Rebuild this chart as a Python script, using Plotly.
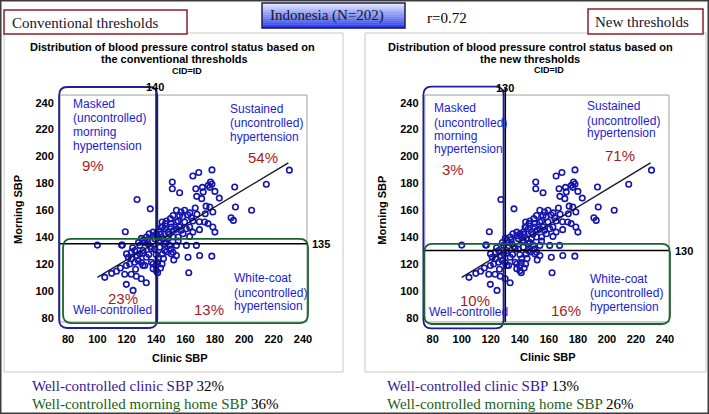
import plotly.graph_objects as go

W, H = 709, 414

# ---------------- data ----------------
clinic_sbp = [100, 119, 127, 136, 117, 151, 156, 151, 165, 169, 178, 167, 171.5, 175.5, 177, 178, 176.5, 180, 183, 172,
              171, 193.5, 194, 205, 215, 230.7, 191, 192.6, 167.6, 166.6, 174, 176.5, 178.6, 173.4, 167.8, 169.4, 173, 175.3, 178.6, 180,
              169.5, 164, 161.7, 157, 156, 159.4, 153.8, 151.5, 149.7, 146.3, 144.3, 142.4, 140.2, 145.8, 148, 150.3, 153.8, 156, 159.4, 160.6,
              162.8, 158.3, 155, 162.8, 165, 151.5, 148, 144.7, 142.4, 145.8, 149.3, 153.8, 160.6, 167.4, 142.4, 145.8, 150.3, 153.8, 161.7, 169.6,
              177.9, 144.3, 141.3, 144, 140.1, 140.1, 137.9, 162.2, 136.8, 134.5, 131.1, 128.9, 131.1, 133.4, 136.8, 132.3, 128.9, 125.4, 123.2, 119.8,
              123.2, 125.4, 122, 127.8, 133.4, 135.2, 137.9, 139, 144, 143.6, 105, 109.7, 113, 115.6, 119.7, 121, 118.6, 123, 126.5, 129.9,
              133.3, 119.7, 124.3, 131, 137.9,
              128, 132, 136, 139, 135, 131, 127, 124, 130, 134,
              138, 141, 143, 147, 149, 152, 154, 150, 147, 155, 158, 163, 165,
              157, 155, 150, 147, 140, 141, 145, 152, 143, 130, 126,
              116.5, 151.5, 141]
morning_sbp = [134, 144, 168, 161, 134, 181, 173, 176, 185.5, 188, 190, 176, 177, 178.6, 181, 179.5, 177, 174, 169, 173.6,
               168.6, 177.3, 162.4, 160, 179.3, 189.8, 154.4, 152.4, 170.3, 161.6, 163, 162.4, 158.7, 157.4, 157, 151.4, 151.2, 150, 147.5, 143.7,
               145.5, 154.4, 156.4, 158.7, 156, 160, 160, 156, 153.7, 150, 147.5, 143.7, 142.5, 146.2, 143.7, 147.5, 151.2, 147.5, 151.2, 146.2,
               147.5, 142.5, 140, 140.5, 143.7, 140, 138.8, 138.8, 137.5, 135, 133.8, 133.8, 133.8, 133.8, 132.5, 130, 127.5, 126.3, 125, 126.3,
               125.8, 127.5, 123.8, 120, 118.8, 115, 116.4, 113.4, 131.3, 135, 137.5, 133.8, 130, 125, 121.3, 118.8, 127.5, 130, 128.8, 127.5,
               123.8, 121.3, 120, 122.5, 140, 142.5, 143.7, 138.8, 151.2, 147.5, 110, 113, 114.5, 117, 118.8, 125, 112.3, 112.3, 110.8, 109,
               106, 104.8, 100.3, 118.8, 120,
               136, 136, 133, 131, 127, 128, 126, 132, 139, 138,
               141, 140, 142, 136, 142, 145, 146, 150, 152, 152, 155, 158, 152,
               145, 137, 131, 129, 127, 121, 124, 123, 117, 121, 116,
               134, 128.7, 113.5]
reg_x = [100, 230]
reg_y = [110, 195.2]

x_ticks = [80, 100, 120, 140, 160, 180, 200, 220, 240]
y_ticks = [80, 100, 120, 140, 160, 180, 200, 220, 240]

panels = [
    dict(name="Conventional thresholds", cx=140, my=135,
         pct=dict(masked="9%", sustained="54%", well="23%", white="13%"),
         clinic_ok="32%", home_ok="36%"),
    dict(name="New thresholds", cx=130, my=130,
         pct=dict(masked="3%", sustained="71%", well="10%", white="16%"),
         clinic_ok="13%", home_ok="26%"),
]

# ---------------- layout helpers ----------------
def px(x):
    return x / W

def py(y):
    return 1 - y / H

XR = [71, 247]
YR = [70, 254]
xdoms = [[54.8 / W, 313.3 / W], [419.6 / W, 675.2 / W]]
ydom = [1 - 331.1 / H, 1 - 83.9 / H]

BLUE_TXT = "rgb(28,28,210)"
RED_TXT = "rgb(165,30,30)"
BOX_BLUE = "rgb(30,30,150)"
BOX_GREEN = "rgb(25,100,45)"

fig = go.Figure()
shapes = []
annots = []

def rrect(x0, y0, x1, y1, rx, ry):
    return (f"M {x0+rx},{y0} L {x1-rx},{y0} Q {x1},{y0} {x1},{y0+ry} "
            f"L {x1},{y1-ry} Q {x1},{y1} {x1-rx},{y1} L {x0+rx},{y1} "
            f"Q {x0},{y1} {x0},{y1-ry} L {x0},{y0+ry} Q {x0},{y0} {x0+rx},{y0} Z")

# page frame and panels
shapes.append(dict(type="rect", xref="paper", yref="paper", x0=px(4), x1=px(343), y0=py(372), y1=py(33),
                   line=dict(color="rgb(200,200,200)", width=1), fillcolor="white", layer="below"))
shapes.append(dict(type="rect", xref="paper", yref="paper", x0=px(365), x1=px(706), y0=py(372), y1=py(33),
                   line=dict(color="rgb(200,200,200)", width=1), fillcolor="white", layer="below"))

# header boxes
shapes.append(dict(type="rect", xref="paper", yref="paper", x0=px(4), x1=px(187), y0=py(34), y1=py(10),
                   line=dict(color="rgb(140,30,40)", width=1.5), fillcolor="white"))
shapes.append(dict(type="rect", xref="paper", yref="paper", x0=px(588), x1=px(703), y0=py(34), y1=py(9),
                   line=dict(color="rgb(140,30,40)", width=1.5), fillcolor="white"))
# gradient box for country label
n_strip = 13
top_c = (225, 232, 255)
bot_c = (40, 60, 235)
for i in range(n_strip):
    t = i / (n_strip - 1)
    c = tuple(int(top_c[k] + (bot_c[k] - top_c[k]) * t) for k in range(3))
    y0s = 3 + 25 * i / n_strip
    y1s = 3 + 25 * (i + 1) / n_strip
    shapes.append(dict(type="rect", xref="paper", yref="paper", x0=px(262), x1=px(405), y0=py(y1s + 0.3), y1=py(y0s),
                       line=dict(width=0), fillcolor=f"rgb{c}"))
shapes.append(dict(type="rect", xref="paper", yref="paper", x0=px(262), x1=px(405), y0=py(28), y1=py(3),
                   line=dict(color="rgb(30,30,80)", width=1.5), fillcolor="rgba(0,0,0,0)"))
shapes.append(dict(type="rect", xref="paper", yref="paper", x0=0, x1=1, y0=0, y1=1,
                   line=dict(color="rgb(60,60,60)", width=3), fillcolor="rgba(0,0,0,0)"))

serif = "Liberation Serif, Times New Roman, serif"
sans = "Liberation Sans, Arial, sans-serif"

def txt(x, y, s, size, color="black", family=sans, xanchor="center", yanchor="middle", bold=False, angle=0):
    annots.append(dict(x=px(x), y=py(y), xref="paper", yref="paper", text=s, showarrow=False,
                       xanchor=xanchor, yanchor=yanchor, textangle=angle,
                       font=dict(size=size, color=color, family=family, weight="bold" if bold else "normal")))

txt(10, 23, "Conventional thresholds", 15, "rgb(20,20,50)", serif, xanchor="left")
txt(268, 15.5, "Indonesia (N=202)", 15, "rgb(20,20,50)", serif, xanchor="left")
txt(425, 18, "r=0.72", 15, "black", serif, xanchor="left")
txt(593, 22, "New thresholds", 15, "rgb(20,20,50)", serif, xanchor="left")

# per-panel geometry (pixel positions of labels)
geo = [
    dict(t1=(172.7, 47), t2=(174, 59.3), t3=(187.5, 70.7), sub="the conventional thresholds",
         masked=(70.7, [104.3, 118.5, 132.3, 145.5]), sustained=(228, [109.3, 123.3, 136.7]),
         white=(231.7, [277.7, 292.5, 306]), well=(71, 310),
         p_masked=(92.7, 165.7), p_sus=(263, 157), p_well=(122.7, 298), p_white=(209, 309),
         lab_top=(155.3, 87.3), lab_right=(321, 244.3), ytitle=(18, 210), xtitle=(180, 357.7),
         bottom_x=30,
         blue=(73.9, 72.3, 140.8, 251.7), green=(76.6, 76.0, 243.4, 138.6)),
    dict(t1=(530, 47), t2=(530, 58.6), t3=(549, 70.3), sub="the new thresholds",
         masked=(431.7, [108.3, 122.7, 136, 149.3]), sustained=(585, [106, 120.7, 133.3]),
         white=(587.7, [279.3, 293.3, 306.7]), well=(426.7, 311.7),
         p_masked=(452.7, 169.3), p_sus=(620, 155), p_well=(475, 300.7), p_white=(566, 310),
         lab_top=(505, 88.3), lab_right=(684, 250.7), ytitle=(381.7, 210), xtitle=(548, 357.3),
         bottom_x=385,
         blue=(73.6, 72.0, 128.8, 252.0), green=(74.2, 75.3, 243.4, 134.9)),
]

for i, (p, g) in enumerate(zip(panels, geo)):
    xa = "x" if i == 0 else "x2"
    ya = "y" if i == 0 else "y2"
    fig.add_trace(go.Scatter(x=clinic_sbp, y=morning_sbp, mode="markers", xaxis=xa, yaxis=ya,
                             marker=dict(symbol="circle-open", size=5.5, color="rgb(20,20,175)",
                                         line=dict(width=1.6, color="rgb(20,20,175)")),
                             showlegend=False, cliponaxis=False, hoverinfo="skip"))
    fig.add_trace(go.Scatter(x=reg_x, y=reg_y, mode="lines", xaxis=xa, yaxis=ya,
                             line=dict(color="rgb(20,20,40)", width=1.3), showlegend=False, hoverinfo="skip"))
    # plot frame
    shapes.append(dict(type="rect", xref=xa, yref=ya, x0=74.6, x1=242.7, y0=76.8, y1=245.7,
                       line=dict(color="rgb(160,160,160)", width=1), layer="below"))
    # threshold lines
    shapes.append(dict(type="line", xref=xa, yref=ya, x0=74.6, x1=242.7, y0=p["my"], y1=p["my"],
                       line=dict(color="black", width=1.6)))
    shapes.append(dict(type="line", xref=xa, yref=ya, x0=p["cx"], x1=p["cx"], y0=76.8, y1=251.5,
                       line=dict(color="black", width=1.6)))
    # rounded quadrant boxes
    bx0, by0, bx1, by1 = g["blue"]
    shapes.append(dict(type="path", xref=xa, yref=ya, path=rrect(bx0, by0, bx1, by1, 5.5, 6.5),
                       line=dict(color=BOX_BLUE, width=1.8)))
    gx0, gy0, gx1, gy1 = g["green"]
    shapes.append(dict(type="path", xref=xa, yref=ya, path=rrect(gx0, gy0, gx1, gy1, 5.5, 6.5),
                       line=dict(color=BOX_GREEN, width=1.8)))

    # titles
    txt(*g["t1"], "Distribution of blood pressure control status based on", 11, "black", sans, bold=True)
    txt(*g["t2"], g["sub"], 11, "black", sans, bold=True)
    txt(*g["t3"], "CID=ID", 9, "black", sans, bold=True)
    # quadrant text
    mx, mys = g["masked"]
    for s, yy in zip(["Masked", "(uncontrolled)", "morning", "hypertension"], mys):
        txt(mx, yy, s, 12, BLUE_TXT, sans, xanchor="left")
    sx, sys_ = g["sustained"]
    for s, yy in zip(["Sustained", "(uncontrolled)", "hypertension"], sys_):
        txt(sx, yy, s, 12, BLUE_TXT, sans, xanchor="left")
    wx, wys = g["white"]
    for s, yy in zip(["White-coat", "(uncontrolled)", "hypertension"], wys):
        txt(wx, yy, s, 12, BLUE_TXT, sans, xanchor="left")
    txt(*g["well"], "Well-controlled", 12, BLUE_TXT, sans, xanchor="left")
    txt(*g["p_masked"], p["pct"]["masked"], 15, RED_TXT, sans)
    txt(*g["p_sus"], p["pct"]["sustained"], 15, RED_TXT, sans)
    txt(*g["p_well"], p["pct"]["well"], 15, RED_TXT, sans)
    txt(*g["p_white"], p["pct"]["white"], 15, RED_TXT, sans)
    # threshold labels
    txt(*g["lab_top"], str(p["cx"]), 11, "black", sans, bold=True)
    txt(*g["lab_right"], str(p["my"]), 11, "black", sans, bold=True)
    # axis titles
    txt(*g["ytitle"], "Morning SBP", 11, "black", sans, bold=True, angle=-90)
    txt(*g["xtitle"], "Clinic SBP", 11, "black", sans, bold=True)
    # bottom summary
    txt(g["bottom_x"], 386, f"<span style='color:rgb(55,25,150)'>Well-controlled clinic SBP</span> {p['clinic_ok']}",
        15, "black", serif, xanchor="left")
    txt(g["bottom_x"], 404, f"<span style='color:rgb(25,95,25)'>Well-controlled morning home SBP</span> {p['home_ok']}",
        15, "black", serif, xanchor="left")

axis_common = dict(showgrid=False, zeroline=False, showline=False, ticks="",
                   tickfont=dict(size=11, color="black", family=sans, weight="bold"))
fig.update_layout(
    width=W, height=H, margin=dict(l=0, r=0, t=0, b=0),
    paper_bgcolor="white", plot_bgcolor="rgba(0,0,0,0)",
    xaxis=dict(domain=xdoms[0], range=XR, tickvals=x_ticks, anchor="y", **axis_common),
    yaxis=dict(domain=ydom, range=YR, tickvals=y_ticks, anchor="x", **axis_common),
    xaxis2=dict(domain=xdoms[1], range=XR, tickvals=x_ticks, anchor="y2", **axis_common),
    yaxis2=dict(domain=ydom, range=YR, tickvals=y_ticks, anchor="x2", **axis_common),
    shapes=shapes, annotations=annots, hovermode=False,
)
fig.write_html("out.html", config={"displayModeBar": False, "staticPlot": True},
               post_script="document.body.style.margin='0';document.body.style.padding='0';"
                           "document.body.style.overflow='hidden';")
